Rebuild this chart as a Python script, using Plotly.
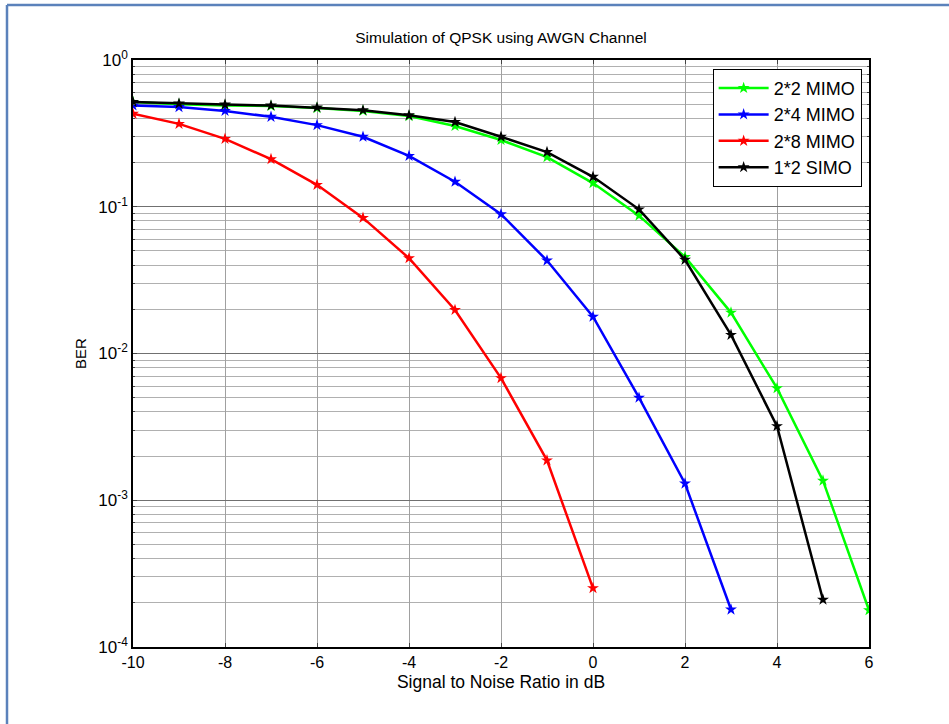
import plotly.graph_objects as go

snr = [-10, -9, -8, -7, -6, -5, -4, -3, -2, -1, 0, 1, 2, 3, 4, 5, 6]

ber_2x2 = [0.517, 0.50, 0.49, 0.486, 0.47, 0.45, 0.415, 0.355, 0.285, 0.218,
           0.145, 0.087, 0.0455, 0.019, 0.0058, 0.00136, 0.000178]
ber_2x4 = [0.49, 0.478, 0.45, 0.41, 0.36, 0.30, 0.222, 0.148, 0.089, 0.043,
           0.0178, 0.005, 0.0013, 0.00018]
ber_2x8 = [0.43, 0.367, 0.29, 0.211, 0.141, 0.084, 0.0446, 0.0198, 0.0068,
           0.00187, 0.000252]
ber_1x2 = [0.517, 0.505, 0.497, 0.49, 0.475, 0.455, 0.42, 0.378, 0.30, 0.236,
           0.16, 0.096, 0.0435, 0.0134, 0.0032, 0.00021]

series = [
    ("2*2 MIMO", ber_2x2, "#00ff00"),
    ("2*4 MIMO", ber_2x4, "#0000ff"),
    ("2*8 MIMO", ber_2x8, "#ff0000"),
    ("1*2 SIMO", ber_1x2, "#000000"),
]

ytick_vals = [1e-4, 1e-3, 1e-2, 1e-1, 1]
ytick_text = ["10<sup>-4</sup>", "10<sup>-3</sup>", "10<sup>-2</sup>",
              "10<sup>-1</sup>", "10<sup>0</sup>"]
xtick_vals = [-10, -8, -6, -4, -2, 0, 2, 4, 6]
xtick_text = ["-10", "-8", "-6", "-4", "-2", "0", "2", "4", "6"]

fig = go.Figure()
for name, vals, color in series:
    fig.add_trace(go.Scatter(
        x=snr[:len(vals)], y=vals, name=name, mode="lines+markers",
        line=dict(color=color, width=2.5),
        marker=dict(symbol="star", size=9, color=color),
    ))

font = "Liberation Sans, Arial, sans-serif"
fig.update_layout(
    width=949, height=724,
    margin=dict(l=133, r=80, t=60, b=77),
    paper_bgcolor="white", plot_bgcolor="white",
    font=dict(family=font, size=14, color="black"),
    title=dict(text="Simulation of QPSK using AWGN Channel", x=(133 + 869) / 2 / 949,
               xanchor="center", y=1 - 38 / 724, yanchor="middle", font=dict(size=15.5)),
    showlegend=True,
    legend=dict(x=0.99, y=0.985, xanchor="right", yanchor="top",
                bordercolor="black", borderwidth=1, bgcolor="white",
                font=dict(size=18), tracegroupgap=0, itemwidth=50),
)
fig.update_xaxes(
    range=[-10, 6], tickvals=xtick_vals, ticktext=xtick_text,
    ticks="inside", ticklen=4,
    showline=True, linecolor="black", linewidth=1.5, mirror="ticks",
    showgrid=True, gridcolor="#a0a0a0", gridwidth=1, zeroline=False,
    title=dict(text="Signal to Noise Ratio in dB", font=dict(size=17.5), standoff=6),
    tickfont=dict(size=16),
)
fig.update_yaxes(
    type="log", range=[-4, 0], tickvals=ytick_vals, ticktext=ytick_text,
    ticks="inside", ticklen=4,
    showline=True, linecolor="black", linewidth=1.5, mirror="ticks",
    showgrid=True, gridcolor="#707070", gridwidth=1, zeroline=False,
    minor=dict(dtick="D1", showgrid=True, gridcolor="#b0b0b0", gridwidth=1,
               ticks="inside", ticklen=2),
    title=dict(text="BER", font=dict(size=15), standoff=8),
    tickfont=dict(size=17),
)

frame = "#5b82bb"
fig.add_shape(type="line", xref="paper", yref="paper",
              x0=(7 - 133) / 736, x1=(949 - 133) / 736,
              y0=(647 - 5) / 587, y1=(647 - 5) / 587,
              line=dict(color=frame, width=2.5))
fig.add_shape(type="line", xref="paper", yref="paper",
              x0=(7 - 133) / 736, x1=(7 - 133) / 736,
              y0=(647 - 5) / 587, y1=(647 - 724) / 587,
              line=dict(color=frame, width=2.5))

fig.write_html("out.html", config={"displayModeBar": False},
               post_script="document.body.style.margin='0';document.body.style.overflow='hidden';")
